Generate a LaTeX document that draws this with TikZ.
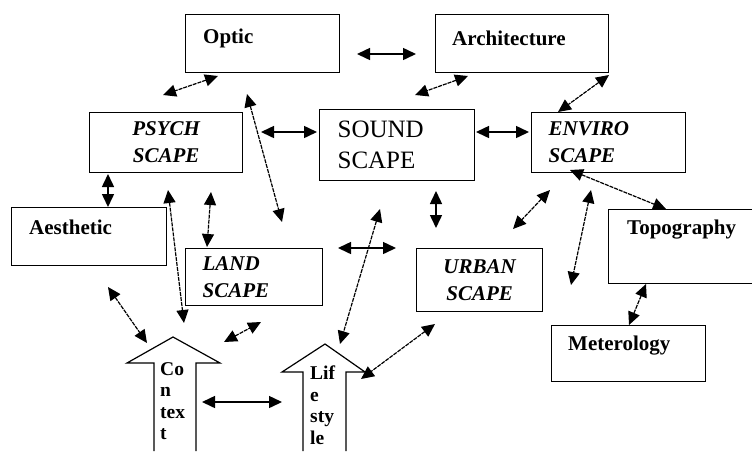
\documentclass[tikz,border=0pt]{standalone}
\usepackage{fontspec}
\setmainfont{Liberation Serif}
\usetikzlibrary{arrows.meta}

\tikzset{
  box/.style={draw, line width=1.2pt, rectangle, inner sep=0pt, anchor=north west},
  tag/.style={anchor=west, inner sep=0pt, font=\bfseries\fontsize{21}{24}\selectfont},
  scape/.style={box, font=\bfseries\itshape\fontsize{21}{27}\selectfont},
  dbl/.style={{Triangle[length=13pt,width=12pt]}-{Triangle[length=13pt,width=12pt]}, line width=1.5pt},
  dsh/.style={dbl, line width=1.2pt, dash pattern=on 4pt off 1pt},
  blockarrow/.style={line width=1.2pt, line join=miter},
  arrtxt/.style={anchor=north west, inner sep=0pt, align=left, font=\bfseries\fontsize{19.5}{21.5}\selectfont}
}

\begin{document}
\begin{tikzpicture}[x=1pt,y=-1pt]

	\useasboundingbox (0,0) rectangle (752,451);
	\clip (0,0) rectangle (752,451);

	% boxes
	\node [box, minimum width=154pt, minimum height=58pt, label={[tag, xshift=18pt, yshift=-24pt]north west:Optic}]		(optic)	at (185,14)	{};
	\node [box, minimum width=173pt, minimum height=58pt, label={[tag, xshift=17pt, yshift=-24pt]north west:Architecture}]	(arch)	at (435,14)	{};
	\node [box, minimum width=155pt, minimum height=58pt, label={[tag, xshift=18pt, yshift=-20pt]north west:Aesthetic}]	(aes)	at (11,207)	{};
	\node [box, minimum width=160pt, minimum height=74pt, label={[tag, xshift=19pt, yshift=-21pt]north west:Topography}]	(topo)	at (608,209)	{};
	\node [box, minimum width=154pt, minimum height=56pt, label={[tag, xshift=17pt, yshift=-21pt]north west:Meterology}]	(meter)	at (551,325)	{};

	\node [scape, minimum width=153pt, minimum height=60pt, align=center]					(psych)		at (89,112)		{PSYCH\\SCAPE};
	\node [scape, text width=120pt, inner xsep=17pt, minimum height=60pt, align=left]		(enviro)	at (531,112)	{ENVIRO\\SCAPE};
	\node [scape, text width=103pt, inner xsep=17pt, minimum height=57pt, align=left]		(land)		at (185,248)	{LAND\\SCAPE};
	\node [scape, minimum width=126pt, minimum height=63pt, align=center]					(urban)		at (416,248)	{URBAN\\SCAPE};
	\node [box, text width=119pt, inner xsep=18pt, minimum height=71pt, align=left, font=\fontsize{25}{31}\selectfont]	(sound)	at (319,109)	{SOUND\\SCAPE};

	% block arrows
	\draw [blockarrow] (154,451) -- (154,363) -- (127,363) -- (173,337) -- (220,363) -- (196,363) -- (196,451);
	\node [arrtxt] (context) at (160,362) {Co\\n\\tex\\t};
	\draw [blockarrow] (303,451) -- (303,372) -- (282,372) -- (325,344) -- (365,372) -- (346,372) -- (346,451);
	\node [arrtxt] (life) at (310,366) {Lif\\e\\sty\\le};

	% connector ends
	\coordinate (oa1) at (357,54);	\coordinate (oa2) at (416,54);
	\coordinate (op1) at (218,76);	\coordinate (op2) at (163,95);
	\coordinate (as1) at (468,76);	\coordinate (as2) at (415,95);
	\coordinate (ae1) at (609,75);	\coordinate (ae2) at (558,112);
	\coordinate (ps1) at (261,132);	\coordinate (ps2) at (317,132);
	\coordinate (se1) at (476,132);	\coordinate (se2) at (529,132);
	\coordinate (ol1) at (247,94);	\coordinate (ol2) at (282,222);
	\coordinate (pa1) at (108,174);	\coordinate (pa2) at (108,207);
	\coordinate (pc1) at (168,190);	\coordinate (pc2) at (184,323);
	\coordinate (pl1) at (211,192);	\coordinate (pl2) at (207,247);
	\coordinate (ac1) at (108,287);	\coordinate (ac2) at (147,343);
	\coordinate (lc1) at (224,342);	\coordinate (lc2) at (261,322);
	\coordinate (cl1) at (202,402);	\coordinate (cl2) at (282,402);
	\coordinate (sl1) at (380,209);	\coordinate (sl2) at (340,344);
	\coordinate (mh1) at (338,248);	\coordinate (mh2) at (396,248);
	\coordinate (su1) at (436,191);	\coordinate (su2) at (436,228);
	\coordinate (ue1) at (550,190);	\coordinate (ue2) at (513,229);
	\coordinate (ed1) at (591,190);	\coordinate (ed2) at (571,285);
	\coordinate (et1) at (570,170);	\coordinate (et2) at (666,209);
	\coordinate (tm1) at (646,284);	\coordinate (tm2) at (629,325);
	\coordinate (ul1) at (435,324);	\coordinate (ul2) at (361,379);

	% connectors
	\draw [dbl] (oa1) -- (oa2);
	\draw [dbl] (ps1) -- (ps2);
	\draw [dbl] (se1) -- (se2);
	\draw [dbl] (pa1) -- (pa2);
	\draw [dbl] (cl1) -- (cl2);
	\draw [dbl] (mh1) -- (mh2);
	\draw [dbl] (su1) -- (su2);
	\draw [dsh] (op1) -- (op2);
	\draw [dsh] (as1) -- (as2);
	\draw [dsh] (ae1) -- (ae2);
	\draw [dsh] (ol1) -- (ol2);
	\draw [dsh] (pc1) -- (pc2);
	\draw [dsh] (pl1) -- (pl2);
	\draw [dsh] (ac1) -- (ac2);
	\draw [dsh] (lc1) -- (lc2);
	\draw [dsh] (sl1) -- (sl2);
	\draw [dsh] (ue1) -- (ue2);
	\draw [dsh] (ed1) -- (ed2);
	\draw [dsh] (et1) -- (et2);
	\draw [dsh] (tm1) -- (tm2);
	\draw [dsh] (ul1) -- (ul2);

\end{tikzpicture}
\end{document}
